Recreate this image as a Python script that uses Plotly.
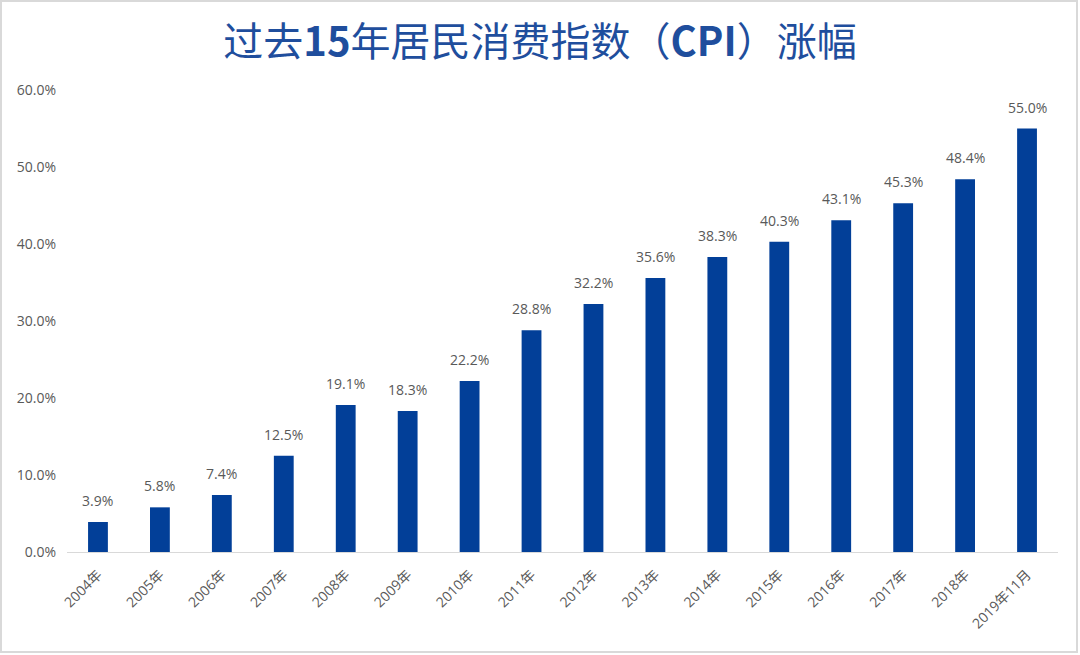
import plotly.graph_objects as go

categories = ["2004年", "2005年", "2006年", "2007年", "2008年", "2009年", "2010年", "2011年",
              "2012年", "2013年", "2014年", "2015年", "2016年", "2017年", "2018年", "2019年11月"]
cpi_growth = [3.9, 5.8, 7.4, 12.5, 19.1, 18.3, 22.2, 28.8, 32.2, 35.6, 38.3, 40.3, 43.1, 45.3, 48.4, 55.0]
y_ticks = [0, 10, 20, 30, 40, 50, 60]
y_tick_labels = ["0.0%", "10.0%", "20.0%", "30.0%", "40.0%", "50.0%", "60.0%"]
title_text = "过去<b>15</b>年居民消费指数（<b>CPI</b>）涨幅"

W, H = 1080, 655
ml, mr, mt, mb = 67, 22, 90, 103
pw, ph = W - ml - mr, H - mt - mb
label_font = dict(family="Open Sans, Noto Sans", size=14, color="#595959")

fig = go.Figure(go.Bar(
    x=categories, y=cpi_growth,
    marker=dict(color="#023f98", line=dict(width=0)),
    hoverinfo="x+y",
))

for c, v in zip(categories, cpi_growth):
    fig.add_annotation(x=c, y=v, text=f"{v:.1f}%", showarrow=False, yanchor="bottom",
                       yshift=10, font=label_font)

fig.update_layout(
    width=W, height=H,
    margin=dict(l=ml, r=mr, t=mt, b=mb),
    paper_bgcolor="white", plot_bgcolor="white",
    bargap=0.68,
    showlegend=False,
    title=dict(text=title_text, x=0.5, xref="container", xanchor="center",
               y=1 - 42 / H, yanchor="middle",
               font=dict(family="Noto Sans CJK SC", size=40, color="#1f4e9d")),
    xaxis=dict(tickangle=-45, showgrid=False, showline=True, linecolor="#d9d9d9", linewidth=1,
               ticks="", ticklabelstandoff=8,
               tickfont=dict(family="Open Sans, Noto Sans CJK SC", size=14, color="#595959"),
               range=[-0.5, len(categories) - 0.5]),
    yaxis=dict(range=[0, 60], tickvals=y_ticks, ticktext=y_tick_labels, showgrid=False,
               zeroline=False, showline=False, ticks="", ticklabelstandoff=10,
               tickfont=dict(family="Open Sans, Noto Sans", size=14, color="#595959")),
    shapes=[dict(type="rect", xref="paper", yref="paper",
                 x0=(1 - ml) / pw, x1=(W - 3 - ml) / pw,
                 y0=(mt + ph - (H - 3)) / ph, y1=(mt + ph - 1) / ph,
                 line=dict(color="#d9d9d9", width=2), fillcolor="rgba(0,0,0,0)", layer="below")],
)

fig.write_html("out.html", config={"displayModeBar": False},
               post_script="document.body.style.margin='0';document.body.style.padding='0';")
